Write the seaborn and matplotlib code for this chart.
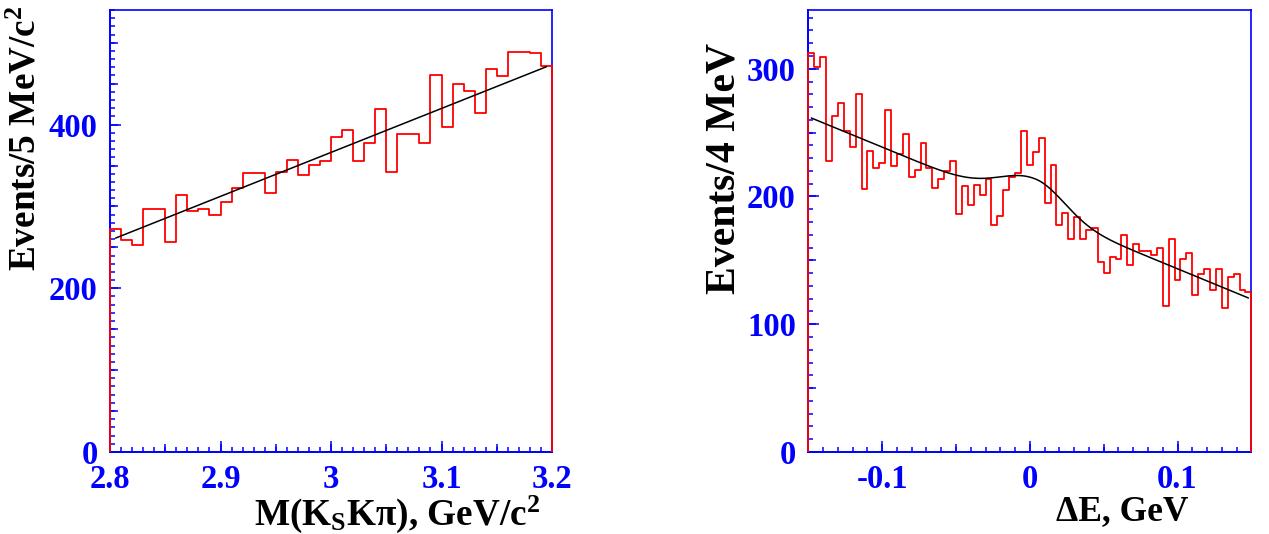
import numpy as np
import pandas as pd
import matplotlib
matplotlib.use("Agg")
import matplotlib.pyplot as plt
import seaborn as sns
from matplotlib.ticker import MultipleLocator, FuncFormatter

# ---------------- data ----------------
mass_range = (2.8, 3.2)
mass_counts = [272, 259, 253, 297, 297, 257, 314, 294, 297, 289,
               306, 322, 341, 341, 317, 342, 357, 338, 351, 355,
               385, 393, 356, 377, 419, 342, 389, 388, 378, 461,
               397, 449, 441, 414, 468, 459, 489, 489, 487, 471]
mass_fit_slope = 537.0       # events per GeV
mass_fit_at_3 = 366.0        # value of the fit line at 3.0 GeV

de_range = (-0.15, 0.15)
de_counts = [312, 301, 309, 228, 263, 273, 251, 239, 280, 206,
             236, 222, 226, 268, 224, 233, 249, 215, 221, 242,
             222, 207, 214, 220, 228, 186, 208, 193, 209, 201,
             214, 178, 185, 205, 215, 218, 251, 225, 235, 246,
             195, 225, 178, 187, 167, 184, 167, 174, 175, 149,
             140, 153, 151, 170, 146, 163, 157, 157, 154, 160,
             114, 167, 135, 151, 156, 123, 139, 143, 127, 143,
             113, 137, 139, 127, 125]
de_bkg_c0 = 191.0
de_bkg_c1 = -476.0
de_sig_amp = 24.5
de_sig_mean = 0.004
de_sig_sigma_left = 0.024
de_sig_sigma_right = 0.0195

mass_xticks = [2.8, 2.9, 3.0, 3.1, 3.2]
de_xticks = [-0.1, 0.0, 0.1]

# ---------------- style ----------------
sns.set_theme(style="white")
plt.rcParams["font.family"] = ["Liberation Serif", "DejaVu Serif"]
plt.rcParams["font.weight"] = "bold"
plt.rcParams["mathtext.fontset"] = "custom"
plt.rcParams["mathtext.rm"] = "Liberation Serif:bold"
plt.rcParams["mathtext.it"] = "Liberation Serif:bold"
plt.rcParams["mathtext.bf"] = "Liberation Serif:bold"
plt.rcParams["axes.unicode_minus"] = False

BLUE = "#0000ff"
RED = "#ff0000"

fig = plt.figure(figsize=(12.69, 5.34), dpi=100)
ax1 = fig.add_axes([0.0867, 0.1536, 0.3483, 0.8277])
ax2 = fig.add_axes([0.6370, 0.1536, 0.3491, 0.8277])


def fmt(v, p):
    v = round(v, 3) + 0.0
    return f"{v:g}"


def hist_panel(ax, rng, counts, ymax):
    counts = np.asarray(counts, dtype=float)
    n = len(counts)
    edges = np.linspace(rng[0], rng[1], n + 1)
    centers = 0.5 * (edges[:-1] + edges[1:])
    df = pd.DataFrame({"x": centers, "w": counts})
    sns.histplot(data=df, x="x", weights="w", bins=n, binrange=rng,
                 element="step", fill=False, color=RED, linewidth=1.3,
                 ax=ax, zorder=3, clip_on=False)
    # drops to the baseline at both ends of the histogram
    ax.vlines([edges[0], edges[-1]], 0, [counts[0], counts[-1]],
              color=RED, linewidth=1.3, zorder=3, clip_on=False)
    ax.set_xlim(rng)
    ax.set_ylim(0, ymax)
    return centers


def style_axes(ax, xmed, xmin, ymaj, ymed, ymin, xticks):
    for s in ax.spines.values():
        s.set_color(BLUE)
        s.set_linewidth(1.2)
        s.set_visible(True)
    ax.set_xticks(xticks)
    ax.xaxis.set_minor_locator(MultipleLocator(xmin))
    ax.yaxis.set_major_locator(MultipleLocator(ymaj))
    ax.yaxis.set_minor_locator(MultipleLocator(ymin))
    ax.xaxis.set_major_formatter(FuncFormatter(fmt))
    ax.yaxis.set_major_formatter(FuncFormatter(fmt))
    ax.tick_params(which="both", direction="in", color=BLUE,
                   labelcolor=BLUE, top=False, right=False,
                   bottom=True, left=True, width=1.1)
    ax.tick_params(which="major", length=8)
    ax.tick_params(which="minor", length=3.5)
    ax.tick_params(axis="x", which="major", labelsize=23.5, pad=9)
    ax.tick_params(axis="y", which="major", labelsize=23.5, pad=9)
    for lab in ax.get_xticklabels() + ax.get_yticklabels():
        lab.set_fontweight("bold")
    # medium ticks
    x0, x1 = ax.get_xlim()
    y0, y1 = ax.get_ylim()
    secx = ax.secondary_xaxis("bottom")
    mx = np.arange(np.ceil(x0 / xmed - 1e-9) * xmed, x1 + 1e-9, xmed)
    secx.set_xticks(mx)
    secx.set_xticklabels([])
    secx.tick_params(direction="in", length=5.5, color=BLUE, width=1.1)
    secx.spines["bottom"].set_color(BLUE)
    secy = ax.secondary_yaxis("left")
    my = np.arange(0, y1 + 1e-9, ymed)
    secy.set_yticks(my)
    secy.set_yticklabels([])
    secy.tick_params(direction="in", length=5.5, color=BLUE, width=1.1)
    secy.spines["left"].set_color(BLUE)


# ---------------- left panel ----------------
c1 = hist_panel(ax1, mass_range, mass_counts, 540)
xl = np.linspace(c1[0], c1[-1], 200)
yl = mass_fit_at_3 + mass_fit_slope * (xl - 3.0)
sns.lineplot(x=xl, y=yl, color="black", linewidth=1.1, ax=ax1, zorder=4)
style_axes(ax1, 0.05, 0.01, 200, 50, 10, mass_xticks)

# ---------------- right panel ----------------
c2 = hist_panel(ax2, de_range, de_counts, 346)
xr = np.linspace(c2[0], c2[-1], 400)
sig_w = np.where(xr < de_sig_mean, de_sig_sigma_left, de_sig_sigma_right)
yr = (de_bkg_c0 + de_bkg_c1 * xr
      + de_sig_amp * np.exp(-0.5 * ((xr - de_sig_mean) / sig_w) ** 2))
sns.lineplot(x=xr, y=yr, color="black", linewidth=1.1, ax=ax2, zorder=4)
style_axes(ax2, 0.05, 0.01, 100, 50, 10, de_xticks)

# ---------------- labels ----------------
ax1.set_xlabel("M(K$_\\mathrm{S}$K\u03c0), GeV/c$^2$", fontsize=26.8,
               fontweight="bold", color="black")
ax1.set_ylabel("Events/5 MeV/c$^2$", fontsize=26.8, fontweight="bold",
               color="black")
ax2.set_xlabel("\u0394E, GeV", fontsize=25.5, fontweight="bold",
               color="black")
ax2.set_ylabel("Events/4 MeV", fontsize=30, fontweight="bold",
               color="black")

for ax, xpos, ypos in [(ax1, 0.973, -0.094), (ax2, 0.857, -0.097)]:
    ax.xaxis.set_label_coords(xpos, ypos)
    ax.xaxis.label.set_ha("right")
    ax.xaxis.label.set_va("top")

for ax, xpos, ypos in [(ax1, -0.189, 1.011), (ax2, -0.190, 0.925)]:
    ax.yaxis.set_label_coords(xpos, ypos)
    ax.yaxis.label.set_rotation_mode("default")
    ax.yaxis.label.set_ha("center")
    ax.yaxis.label.set_va("top")

fig.savefig("out.png", dpi=100)
